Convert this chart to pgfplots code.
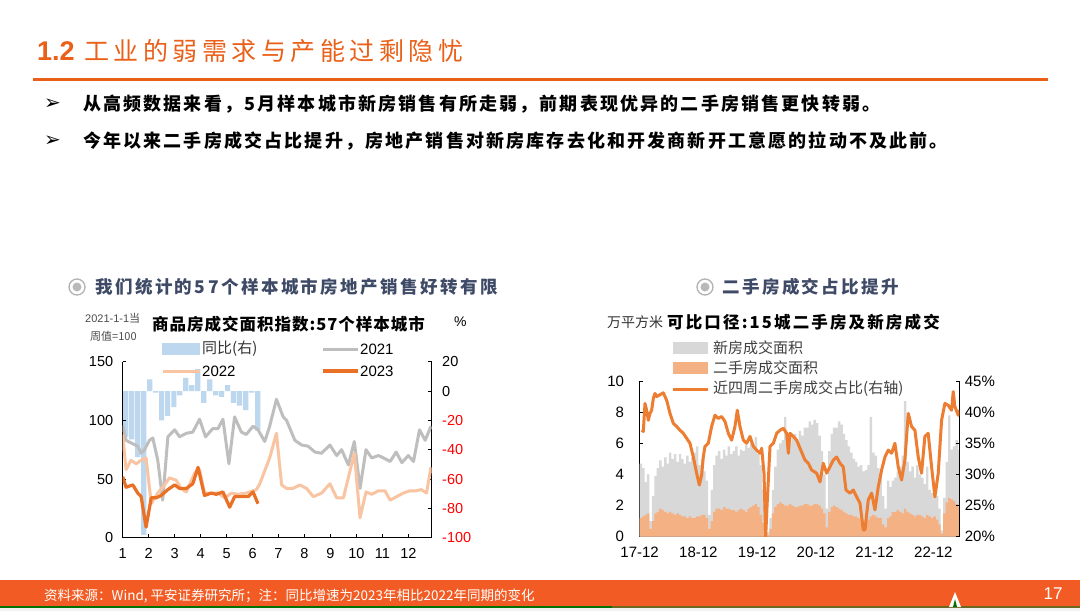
\documentclass[border=0pt]{standalone}
\usepackage{pgfplots}
\pgfplotsset{compat=1.18}
\usepackage{pgfplotstable}
\usepackage{fontspec}
\setmainfont{Liberation Sans}
\newfontfamily\cjk{Noto Sans CJK SC}
\newfontfamily\sym{DejaVu Sans}
\newcommand\fs[1]{\fontsize{#1}{#1}\selectfont}
\definecolor{pao}{RGB}{234,96,24}
\definecolor{foot}{RGB}{242,92,36}
\definecolor{hdr}{RGB}{62,74,102}
\definecolor{bluebar}{RGB}{189,215,238}
\definecolor{g21}{RGB}{190,190,190}
\definecolor{o22}{RGB}{248,196,162}
\definecolor{o23}{RGB}{234,112,38}
\definecolor{newg}{RGB}{216,216,216}
\definecolor{sec}{RGB}{244,177,131}
\definecolor{oline}{RGB}{237,125,49}

\pgfplotstableread{
m g s
0.25 4.7 1.2
0.75 4.4 1.3
1.25 3.5 1.4
1.75 4.0 1.5
2.25 1.0 0.5
2.75 2.6 1.0
3.25 3.9 1.5
3.75 4.4 1.6
4.25 4.9 1.8
4.75 4.5 1.7
5.25 5.1 1.6
5.75 4.7 1.5
6.25 5.4 1.6
6.75 5.0 1.5
7.25 5.3 1.4
7.75 4.8 1.5
8.25 5.3 1.4
8.75 5.0 1.3
9.25 4.7 1.3
9.75 5.2 1.2
10.25 4.8 1.3
10.75 5.1 1.2
11.25 5.4 1.2
11.75 5.8 1.3
12.25 4.6 1.3
12.75 5.0 1.4
13.25 4.2 1.4
13.75 3.6 1.2
14.25 1.4 0.5
14.75 3.0 1.0
15.25 4.6 1.6
15.75 5.2 1.8
16.25 5.5 1.8
16.75 5.0 1.7
17.25 5.6 1.9
17.75 5.2 1.8
18.25 5.8 1.8
18.75 5.3 1.7
19.25 5.5 1.7
19.75 5.8 1.6
20.25 5.2 1.7
20.75 5.6 1.8
21.25 5.5 1.7
21.75 5.9 1.6
22.25 5.7 1.8
22.75 6.2 1.9
23.25 5.9 2.0
23.75 6.4 2.1
24.25 5.3 1.9
24.75 4.6 1.4
25.25 3.0 0.9
25.75 0.5 0.1
26.25 0.3 0.1
26.75 1.2 0.5
27.25 3.0 1.5
27.75 4.5 1.9
28.25 5.6 2.1
28.75 6.0 2.2
29.25 6.2 2.1
29.75 7.7 2.0
30.25 6.3 2.0
30.75 6.0 2.1
31.25 6.4 2.0
31.75 6.6 1.9
32.25 6.0 1.9
32.75 6.8 2.0
33.25 6.5 2.0
33.75 7.0 2.1
34.25 7.0 2.1
34.75 7.4 2.0
35.25 7.2 2.0
35.75 7.5 2.1
36.25 7.3 2.1
36.75 6.5 2.0
37.25 5.5 1.8
37.75 4.0 1.5
38.25 1.8 0.6
38.75 5.5 1.6
39.25 6.6 1.9
39.75 7.0 2.0
40.25 7.0 1.9
40.75 7.4 1.8
41.25 7.2 1.7
41.75 6.6 1.6
42.25 6.2 1.5
42.75 5.8 1.4
43.25 5.4 1.4
43.75 5.0 1.3
44.25 4.8 1.3
44.75 4.5 1.2
45.25 4.6 1.1
45.75 4.2 1.0
46.25 4.3 1.0
46.75 4.6 1.1
47.25 7.7 1.3
47.75 5.4 1.4
48.25 5.2 1.3
48.75 4.4 1.2
49.25 3.8 1.2
49.75 2.6 0.8
50.25 1.8 0.6
50.75 3.6 1.2
51.25 3.2 1.3
51.75 3.6 1.6
52.25 3.8 1.6
52.75 4.2 1.7
53.25 4.5 1.6
53.75 5.2 1.5
54.25 8.7 1.8
54.75 4.8 1.6
55.25 4.2 1.5
55.75 4.5 1.4
56.25 3.8 1.3
56.75 4.6 1.4
57.25 4.0 1.4
57.75 3.8 1.3
58.25 3.4 1.2
58.75 4.5 1.4
59.25 3.0 1.3
59.75 2.8 1.2
60.25 3.4 1.3
60.75 2.6 1.1
61.25 1.8 0.8
61.75 0.4 0.2
62.25 2.5 1.5
62.75 4.8 2.2
63.25 7.8 2.5
63.75 5.6 2.4
64.25 5.8 2.3
64.75 6.2 2.1
65.25 5.6 1.9
}\houses

\pgfplotsset{
  myax/.style={scale only axis, axis line style={black, line width=0.6pt},
    tick style={black, line width=0.6pt}, tick align=inside, major tick length=3.5pt,
    ticklabel style={font=\fs{14.5}}, /pgf/number format/assume math mode=true}
}

\begin{document}
\begin{tikzpicture}
\useasboundingbox (0,0) rectangle (1080pt,-611pt);
\fill[white] (0,0) rectangle (1080pt,-611pt);

% title
\node[anchor=west, inner sep=0, text=pao] at (37pt,-51pt) {\fs{27}\bfseries 1.2};
\node[anchor=west, inner sep=0, text=pao] at (84pt,-51pt) {\cjk\fs{25}\addfontfeature{LetterSpace=18}工业的弱需求与产能过剩隐忧};
\draw[pao, line width=3pt] (33pt,-79pt) -- (1048pt,-79pt);

% bullets
\node[anchor=west, inner sep=0] at (44pt,-104pt) {\sym\fs{20}➢};
\node[anchor=west, inner sep=0] at (44pt,-141pt) {\sym\fs{20}➢};
\node[anchor=west, inner sep=0] at (83pt,-104pt) {\cjk\bfseries\fs{18}\addfontfeature{LetterSpace=12}从高频数据来看，5月样本城市新房销售有所走弱，前期表现优异的二手房销售更快转弱。};
\node[anchor=west, inner sep=0] at (83pt,-141pt) {\cjk\bfseries\fs{18}\addfontfeature{LetterSpace=12}今年以来二手房成交占比提升，房地产销售对新房库存去化和开发商新开工意愿的拉动不及此前。};

% chart headers
\draw[gray!60, line width=1.3pt, fill=white] (77pt,-287pt) circle (8pt);
\fill[gray!55] (77pt,-287pt) circle (4.5pt);
\node[anchor=west, inner sep=0, text=hdr] at (95pt,-287pt) {\cjk\bfseries\fs{17.5}\addfontfeature{LetterSpace=14}我们统计的57个样本城市房地产销售好转有限};
\draw[gray!60, line width=1.3pt, fill=white] (705pt,-287pt) circle (8pt);
\fill[gray!55] (705pt,-287pt) circle (4.5pt);
\node[anchor=west, inner sep=0, text=hdr] at (722pt,-287pt) {\cjk\bfseries\fs{17.5}\addfontfeature{LetterSpace=14}二手房成交占比提升};

% left chart titles
\node[anchor=west, inner sep=0, text=black!70] at (85pt,-318pt) {\fs{11}2021-1-1{\cjk 当}};
\node[anchor=west, inner sep=0, text=black!70] at (90pt,-336pt) {\cjk\fs{11}周值=100};
\node[anchor=west, inner sep=0] at (152pt,-324pt) {\cjk\bfseries\fs{16.5}\addfontfeature{LetterSpace=6}商品房成交面积指数:57个样本城市};
\node[anchor=west, inner sep=0] at (454pt,-322pt) {\fs{14}\%};

% left chart: YoY bars (right axis)
\begin{axis}[myax, at={(122.7pt,-537.7pt)}, anchor=south west, width=309pt, height=176pt,
  xmin=1, xmax=12.9, ymin=-100, ymax=20, axis y line*=right, axis x line=none,
  ytick={-100,-80,-60,-40,-20,0,20},
  yticklabels={\textcolor{red}{-100},\textcolor{red}{-80},\textcolor{red}{-60},\textcolor{red}{-40},\textcolor{red}{-20},0,20},
  yticklabel style={xshift=7pt}]
\addplot[ybar, bar width=0.2, bar shift=0pt, fill=bluebar, draw=none] coordinates {
(1.12,-31) (1.35,-33) (1.58,-45) (1.81,-98) (2.04,8) (2.27,-1) (2.50,-20) (2.73,-17)
(2.97,-11) (3.20,-3) (3.43,9) (3.66,4) (3.89,15) (4.12,-8) (4.35,8) (4.58,-3)
(4.81,-4) (5.04,4) (5.27,-8) (5.50,-10) (5.74,-13) (5.97,-1) (6.20,-27)};
\end{axis}

% left chart: index lines (left axis)
\begin{axis}[myax, at={(122.7pt,-537.7pt)}, anchor=south west, width=309pt, height=176pt,
  xmin=1, xmax=12.9, ymin=0, ymax=150, axis y line*=left, axis x line*=bottom,
  xtick={1,...,12}, ytick={0,50,100,150}, yticklabel style={xshift=-6pt}, xticklabel style={yshift=-7pt}]
\addplot[g21, line width=3pt, line join=round] coordinates {
(1.00,96) (1.13,83) (1.39,80) (1.58,78) (1.71,72) (1.84,75) (2.03,83) (2.16,85) (2.35,66)
(2.54,32) (2.74,86) (3.00,92) (3.19,86) (3.45,89) (3.70,90) (3.96,101) (4.19,86) (4.47,93)
(4.67,93) (4.86,101) (5.09,63) (5.31,103) (5.57,90) (5.76,88) (6.02,95) (6.21,92) (6.47,82)
(6.66,95) (6.92,118) (7.18,103) (7.31,100) (7.63,83) (7.89,79) (8.14,78) (8.40,73) (8.66,72)
(8.98,79) (9.24,70) (9.43,75) (9.69,62) (9.92,82) (10.14,42) (10.37,75) (10.59,68) (10.85,70)
(11.04,68) (11.30,65) (11.53,73) (11.75,64) (12.00,70) (12.20,65) (12.43,92) (12.65,83) (12.87,95)};
\addplot[o22, line width=3pt, line join=round] coordinates {
(1.00,88) (1.13,58) (1.32,66) (1.52,63) (1.71,66) (1.90,68) (2.10,29) (2.35,38) (2.61,45)
(2.80,51) (3.06,49) (3.25,42) (3.45,39) (3.77,55) (3.96,58) (4.15,38) (4.41,38) (4.67,38)
(4.93,34) (5.19,38) (5.44,37) (5.76,38) (6.15,41) (6.28,46) (6.66,68) (6.92,89) (7.12,45)
(7.31,42) (7.56,42) (7.82,45) (8.08,42) (8.34,35) (8.66,38) (8.98,46) (9.24,34) (9.50,34)
(9.92,72) (10.14,17) (10.37,39) (10.59,37) (10.85,40) (11.10,40) (11.30,32) (11.55,35)
(11.80,38) (12.05,40) (12.30,40) (12.50,41) (12.70,38) (12.87,60)};
\addplot[o23, line width=3.2pt, line join=round] coordinates {
(1.00,52) (1.13,43) (1.39,45) (1.58,38) (1.71,35) (1.90,9) (2.10,34) (2.29,34) (2.48,36)
(2.74,41) (3.00,45) (3.19,42) (3.45,42) (3.70,46) (3.90,60) (4.15,36) (4.41,38) (4.60,37)
(4.86,39) (5.12,26) (5.31,35) (5.57,35) (5.83,35) (6.02,39) (6.21,29)};
\end{axis}

% left legend
\fill[bluebar] (162pt,-343pt) rectangle (200pt,-355pt);
\node[anchor=west, inner sep=0, text=black!80] at (202pt,-349pt) {\cjk\fs{15}同比(右)};
\draw[g21, line width=3pt] (323pt,-349pt) -- (358pt,-349pt);
\node[anchor=west, inner sep=0] at (360pt,-349pt) {\fs{15}2021};
\draw[o22, line width=3pt] (163pt,-371pt) -- (200pt,-371pt);
\node[anchor=west, inner sep=0] at (202pt,-371pt) {\fs{15}2022};
\draw[o23, line width=3.2pt] (323pt,-371pt) -- (358pt,-371pt);
\node[anchor=west, inner sep=0] at (360pt,-371pt) {\fs{15}2023};

% right chart titles
\node[anchor=west, inner sep=0, text=black!80] at (607pt,-322pt) {\cjk\fs{14}万平方米};
\node[anchor=west, inner sep=0] at (667pt,-322pt) {\cjk\bfseries\fs{16.5}\addfontfeature{LetterSpace=13}可比口径:15城二手房及新房成交};

% right chart: areas (left axis)
\begin{axis}[myax, at={(639.6pt,-536.7pt)}, anchor=south west, width=319.7pt, height=155.7pt,
  xmin=0, xmax=65.3, ymin=0, ymax=10, axis y line*=left, axis x line*=bottom,
  xtick={0,12,24,36,48,60}, xticklabels={17-12,18-12,19-12,20-12,21-12,22-12},
  ticklabel style={font=\fs{15}},
  ytick={0,2,4,6,8,10}, yticklabel style={xshift=-12pt}, xticklabel style={yshift=-7pt}]
\addplot[ybar, bar width=0.5, bar shift=0pt, fill=newg, draw=none] table[x=m, y=g] {\houses};
\addplot[ybar, bar width=0.5, bar shift=0pt, fill=sec, draw=none] table[x=m, y=s] {\houses};
\end{axis}

% right chart: share line (right axis)
\begin{axis}[myax, at={(639.6pt,-536.7pt)}, anchor=south west, width=319.7pt, height=155.7pt,
  xmin=0, xmax=65.3, ymin=20, ymax=45, axis y line*=right, axis x line=none,
  ticklabel style={font=\fs{15}},
  ytick={20,25,30,35,40,45}, yticklabels={20\%,25\%,30\%,35\%,40\%,45\%}, yticklabel style={xshift=2pt}]
\addplot[oline, line width=3pt, line join=round] coordinates {
(0.42,37.1) (0.76,36.9) (1.10,41.4) (1.44,40.3) (1.78,38.7) (2.12,39.8) (2.46,40.3) (2.80,42.2)
(3.14,43.0) (3.49,42.5) (4.17,42.8) (4.85,43.1) (5.53,41.9) (6.21,39.8) (6.89,38.2) (7.57,37.7)
(8.25,37.1) (8.93,36.6) (9.61,35.8) (10.29,35.0) (10.97,32.8) (11.65,30.2) (12.20,28.3)
(12.67,29.9) (13.01,32.8) (13.35,34.5) (14.03,35.0) (14.71,37.7) (15.39,39.5) (16.07,39.0)
(16.75,39.3) (17.44,38.5) (18.12,36.6) (18.80,35.5) (19.48,37.7) (19.96,40.3) (20.50,37.7)
(21.19,35.5) (21.87,35.0) (22.55,36.1) (23.23,34.5) (23.91,33.9) (24.59,33.4) (24.93,34.2)
(25.41,30.2) (25.75,20.0) (26.09,25.9) (26.64,34.5) (27.32,35.0) (28.00,36.6) (28.68,37.1)
(29.36,37.4) (30.04,36.6) (30.38,33.4) (30.72,36.6) (31.40,36.1) (32.08,35.5) (32.76,34.2)
(33.78,32.3) (34.46,31.8) (35.14,30.7) (36.16,30.2) (36.84,28.8) (37.52,31.8) (38.20,30.2)
(38.88,31.2) (39.56,32.3) (40.24,32.8) (40.92,31.8) (41.60,31.2) (42.15,27.5) (42.97,27.0)
(43.65,27.5) (44.33,26.4) (45.01,25.4) (45.69,21.1) (46.03,21.1) (46.71,25.9) (47.39,27.0)
(48.07,24.3) (48.75,28.0) (49.43,30.7) (50.11,32.8) (50.79,33.9) (51.47,33.4) (52.15,35.0)
(52.83,31.2) (53.51,29.1) (54.19,32.3) (54.87,39.8) (55.55,37.7) (56.23,37.1) (56.91,32.8)
(57.59,30.2) (58.27,36.1) (58.95,36.6) (59.64,31.2) (60.32,26.4) (61.00,30.2) (61.68,38.7)
(62.36,41.4) (63.04,41.1) (63.72,40.3) (64.06,43.3) (64.40,40.9) (65.08,39.5) (65.30,40.3)};
\end{axis}

% right legend
\fill[newg] (673pt,-342pt) rectangle (708pt,-354pt);
\node[anchor=west, inner sep=0, text=black!75] at (713pt,-348pt) {\cjk\fs{15}新房成交面积};
\fill[sec] (673pt,-362pt) rectangle (708pt,-374pt);
\node[anchor=west, inner sep=0, text=black!75] at (713pt,-368pt) {\cjk\fs{15}二手房成交面积};
\draw[oline, line width=3pt] (673pt,-389pt) -- (708pt,-389pt);
\node[anchor=west, inner sep=0, text=black!75] at (713pt,-389pt) {\cjk\fs{15}近四周二手房成交占比(右轴)};

% footer
\fill[foot] (0,-580pt) rectangle (1080pt,-606pt);
\fill[green!45!black] (0,-606pt) rectangle (612pt,-608pt);
\fill[olive!70!black] (612pt,-606pt) rectangle (1080pt,-608pt);
\fill[black!5] (0,-608pt) rectangle (1080pt,-611pt);
\node[anchor=west, inner sep=0, text=white] at (44pt,-596pt) {\cjk\fs{13.5}资料来源：Wind, 平安证券研究所；注：同比增速为2023年相比2022年同期的变化};
\node[inner sep=0, text=white] at (1053pt,-594pt) {\fs{17}17};
\fill[white] (949pt,-607pt) -- (955pt,-592pt) -- (961pt,-607pt) -- cycle;
\fill[green!45!black] (953pt,-607pt) -- (955pt,-599pt) -- (957pt,-607pt) -- cycle;
\end{tikzpicture}
\end{document}
